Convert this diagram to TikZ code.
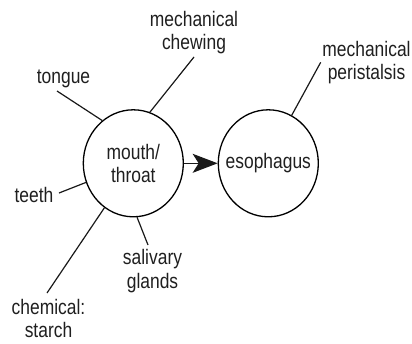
\documentclass[tikz,border=0pt]{standalone}
\usepackage{fontspec}
\setmainfont{Liberation Sans}[FakeStretch=0.83]
\usetikzlibrary{arrows.meta,shapes.geometric}
\begin{document}
\begin{tikzpicture}[x=1pt,y=-1pt,
  every node/.style={font=\fontsize{21}{23.5}\selectfont, text=black!88, inner sep=0pt},
  organ/.style={draw, ellipse, align=center, minimum width=100pt, minimum height=107pt, line width=1.3pt},
  lbl/.style={align=center},
  link/.style={line width=1.2pt, black!90}]
\useasboundingbox (0,0) rectangle (412,343);
\node[organ] (mouth) at (133.3,163.3) {mouth/\\throat};
\node[organ] (eso) at (268.3,163.3) {\makebox[0pt]{esophagus}};
\node[lbl] (chew) at (194,32.5) {mechanical\\chewing};
\node (tongue) at (63.5,78.5) {tongue};
\node (teeth) at (34,195) {teeth};
\node[lbl] (saliv) at (152.5,271) {salivary\\glands};
\node[lbl] (chem) at (48.5,318.5) {chemical:\\starch};
\node[lbl] (peri) at (366.5,62.5) {mechanical\\peristalsis};
\coordinate (tongueEnd) at (57,91);
\coordinate (chewEnd) at (194,57);
\coordinate (teethEnd) at (59,193);
\coordinate (chemEnd) at (47,293);
\coordinate (salivEnd) at (148,245);
\coordinate (periEnd) at (320.7,62.3);
\draw[link] (mouth.126) -- (tongueEnd);
\draw[link] (mouth.72.6) -- (chewEnd);
\draw[link] (mouth.202.6) -- (teethEnd);
\draw[link] (mouth.237.7) -- (chemEnd);
\draw[link] (mouth.274) -- (salivEnd);
\draw[link] (eso.64.9) -- (periEnd);
\draw[link, -{Stealth[length=25pt,width=19pt,inset=6pt]}] (mouth) -- (eso);
\end{tikzpicture}
\end{document}
